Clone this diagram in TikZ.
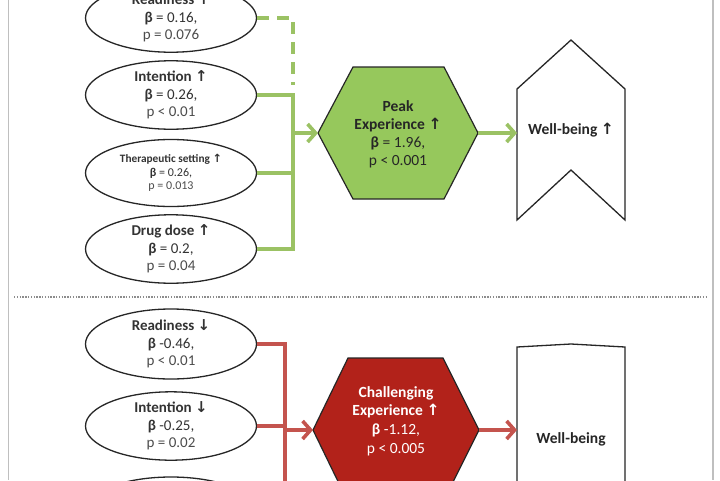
\documentclass[tikz,border=0pt]{standalone}
\usepackage{fontspec}
\setmainfont{Carlito}
\newfontfamily\arrowfont{DejaVu Sans}
\usetikzlibrary{shapes.geometric,arrows.meta}
\newcommand{\myup}{{\arrowfont\char"2191}}
\newcommand{\mydown}{{\arrowfont\char"2193}}
\definecolor{lgreen}{RGB}{155,194,100}
\definecolor{hgreen}{RGB}{150,200,92}
\definecolor{lred}{RGB}{196,84,78}
\definecolor{hred}{RGB}{178,34,26}
\begin{document}
\begin{tikzpicture}[x=1pt,y=-1pt,
  inbox/.style={ellipse, draw=black!85, line width=1.3pt, fill=white,
    minimum width=171pt, minimum height=64pt, inner sep=0pt, align=center,
    font=\fontsize{15}{17.5}\selectfont, text=black!80},
  hexshape/.style={draw=black!85, line width=1.2pt},
  gline/.style={draw=lgreen, line width=3.6pt},
  rline/.style={draw=lred, line width=3.6pt},
  tip/.style={-{Straight Barb[length=8pt,width=18pt]}},
  label/.style={align=center, font=\fontsize{15.5}{18}\selectfont},
  shapeline/.style={draw=black!85, line width=1.3pt, fill=white}]
\useasboundingbox (0,0) rectangle (720,480);
\clip (0,0) rectangle (720,480);
\fill[white] (0,0) rectangle (720,480);
% frame lines
\draw[black!25, line width=1pt] (8,0) -- (8,480);
\draw[black!25, line width=1.6pt] (713,0) -- (713,480);
\draw[black!45, line width=1.2pt, dash pattern=on 1.4pt off 1.4pt] (14,297) -- (708,297);

% ---------- top half ----------
\node[inbox] (r1) at (171,18) {\textbf{Readiness \myup}\\\textbf{β} = 0.16,\\\textcolor{black!70}{p = 0.076}};
\node[inbox] (i1) at (171,95) {\textbf{Intention \myup}\\\textbf{β} = 0.26,\\\textcolor{black!70}{p < 0.01}};
\node[inbox, minimum height=67pt, font=\fontsize{12}{13.8}\selectfont] (t1) at (171,173) {{\fontsize{11.3}{13.8}\selectfont\textbf{Therapeutic setting \myup}}\\\textbf{β} = 0.26,\\\textcolor{black!70}{p = 0.013}};
\node[inbox] (d1) at (171,249) {\textbf{Drug dose \myup}\\\textbf{β} = 0.2,\\\textcolor{black!70}{p = 0.04}};

\coordinate (gdash) at (293,85);
\coordinate (gtop) at (293,95);
\coordinate (gbot) at (293,249);
\coordinate (garr) at (293,133);
\draw[gline, dash pattern=on 12pt off 8pt] (r1.east) -| (gdash);
\draw[gline] (i1.east) -- (gtop) -- (gbot) -- (d1.east);
\draw[gline] (t1.east) -- (t1.east -| gtop);

\filldraw[hexshape, fill=hgreen] (318,133) -- (353,67) -- (444,67) -- (478,133) -- (444,199) -- (353,199) -- cycle;
\coordinate (peakL) at (318,133);
\coordinate (peakR) at (478,133);
\node[label, text=black!85] (peak) at (398,134) {\textbf{Peak}\\\textbf{Experience \myup}\\\textbf{β} = 1.96,\\p < 0.001};
\draw[gline, tip] (garr) -- (peakL);

\filldraw[shapeline] (517,89) -- (571,40) -- (625,89) -- (625,220) -- (571,170) -- (517,220) -- cycle;
\coordinate (wbL) at (517,133);
\node[label, text=black!85] (wb1) at (571,130) {\textbf{Well-being \myup}};
\draw[gline, tip] (peakR) -- (wbL);

% ---------- bottom half ----------
\node[inbox, minimum height=70pt] (r2) at (171,344) {\textbf{Readiness \mydown}\\\textbf{β} -0.46,\\\textcolor{black!70}{p < 0.01}};
\node[inbox] (i2) at (171,426) {\textbf{Intention \mydown}\\\textbf{β} -0.25,\\\textcolor{black!70}{p = 0.02}};
\node[inbox, minimum height=66pt] (x2) at (171,510) {};

\coordinate (rtop) at (285,344);
\coordinate (rbot) at (285,490);
\coordinate (rarr) at (285,430);
\draw[rline] (r2.east) -- (rtop) -- (rbot);
\draw[rline] (i2.east) -- (i2.east -| rtop);

\filldraw[hexshape, fill=hred] (313,430) -- (348,358) -- (443,358) -- (479,430) -- (443,502) -- (348,502) -- cycle;
\coordinate (chL) at (313,430);
\coordinate (chR) at (479,430);
\node[label, text=white, font=\fontsize{15.5}{18.7}\selectfont] (ch) at (396,421) {\textbf{Challenging}\\\textbf{Experience \myup}\\\textbf{β} -1.12,\\p < 0.005};
\draw[rline, tip] (rarr) -- (chL);

\filldraw[shapeline] (517,347) -- (571,344) -- (625,347) -- (625,500) -- (517,500) -- cycle;
\coordinate (wbL2) at (517,430);
\node[label, text=black!85] (wb2) at (571,439) {\textbf{Well-being}};
\draw[rline, tip] (chR) -- (wbL2);
\end{tikzpicture}
\end{document}
